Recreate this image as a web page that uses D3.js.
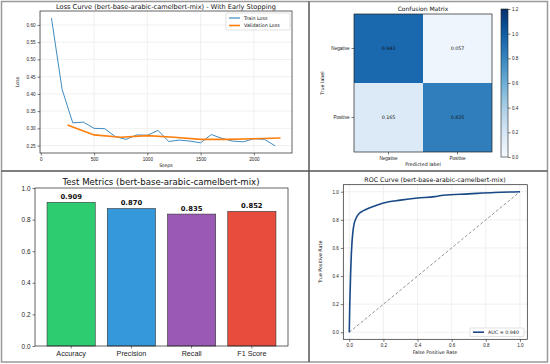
<!DOCTYPE html>
<html>
<head>
<meta charset="utf-8">
<script src="https://cdn.jsdelivr.net/npm/d3@7"></script>
<style>
  body { margin: 0; background: #fff; }
  svg { display: block; font-family: "DejaVu Sans", sans-serif; }
  .tick text { fill: #222; }
</style>
</head>
<body>
<svg id="chart"></svg>
<script>
// Data
const trainSteps = [100, 200, 300, 400, 500, 600, 700, 800, 900, 1000, 1100, 1200, 1300, 1400, 1500, 1600, 1700, 1800, 1900, 2000, 2100, 2200];
const trainLoss = [0.620, 0.413, 0.316, 0.318, 0.300, 0.299, 0.276, 0.268, 0.281, 0.280, 0.294, 0.262, 0.266, 0.263, 0.258, 0.282, 0.271, 0.263, 0.261, 0.270, 0.268, 0.249];
const valSteps = [250, 500, 750, 1000, 1250, 1500, 1750, 2000, 2250];
const valLoss = [0.310, 0.281, 0.274, 0.279, 0.274, 0.268, 0.268, 0.270, 0.272];

const classes = ['Negative', 'Positive'];
const confMatrix = [[0.943, 0.057], [0.165, 0.835]];

const metricNames = ['Accuracy', 'Precision', 'Recall', 'F1 Score'];
const metricValues = [0.909, 0.870, 0.835, 0.852];
const metricColors = ['#2ecc71', '#3498db', '#9b59b6', '#e74c3c'];

const rocFpr = [0, 0.003, 0.008, 0.014, 0.02, 0.028, 0.036, 0.045, 0.058, 0.075, 0.1, 0.14, 0.2, 0.3, 0.4, 0.5, 0.55, 0.7, 0.85, 1.0];
const rocTpr = [0, 0.2, 0.42, 0.6, 0.7, 0.77, 0.8, 0.825, 0.845, 0.86, 0.875, 0.895, 0.92, 0.94, 0.955, 0.965, 0.975, 0.985, 0.995, 1.0];
const aucLabel = 'AUC = 0.940';

const width = 550;
const height = 364;

const svg = d3.select('#chart')
  .attr('width', width)
  .attr('height', height);

svg.append('rect').attr('width', width).attr('height', height).attr('fill', '#fff');

// small helper for a boxed axes frame
function frame(g, x0, y0, x1, y1) {
  g.append('rect')
    .attr('x', x0).attr('y', y0)
    .attr('width', x1 - x0).attr('height', y1 - y0)
    .attr('fill', 'none').attr('stroke', '#222').attr('stroke-width', 0.7);
}

function styleAxis(sel, fs) {
  sel.select('.domain').remove();
  sel.selectAll('.tick line').attr('stroke', '#222').attr('stroke-width', 0.6);
  sel.selectAll('.tick text').attr('font-size', fs);
}

// ---------- Loss curve ----------
{
  const g = svg.append('g');
  const x = d3.scaleLinear().domain([-7.5, 2357.5]).range([40, 292]);
  const y = d3.scaleLinear().domain([0.2285, 0.6405]).range([153, 11]);

  const xTicks = [0, 500, 1000, 1500, 2000];
  const yTicks = d3.range(0.25, 0.6001, 0.05);

  g.append('g').selectAll('line').data(xTicks).join('line')
    .attr('x1', d => x(d)).attr('x2', d => x(d)).attr('y1', 11).attr('y2', 153)
    .attr('stroke', '#e6e6e6').attr('stroke-width', 0.6);
  g.append('g').selectAll('line').data(yTicks).join('line')
    .attr('x1', 40).attr('x2', 292).attr('y1', d => y(d)).attr('y2', d => y(d))
    .attr('stroke', '#e6e6e6').attr('stroke-width', 0.6);

  const line = d3.line().x(d => x(d[0])).y(d => y(d[1]));
  g.append('path')
    .datum(trainSteps.map((s, i) => [s, trainLoss[i]]))
    .attr('d', line).attr('fill', 'none')
    .attr('stroke', '#1f77b4').attr('stroke-opacity', 0.85).attr('stroke-width', 1);
  g.append('path')
    .datum(valSteps.map((s, i) => [s, valLoss[i]]))
    .attr('d', line).attr('fill', 'none')
    .attr('stroke', '#ff7f0e').attr('stroke-width', 1.6);

  g.append('g').attr('transform', 'translate(0,153)')
    .call(d3.axisBottom(x).tickValues(xTicks).tickFormat(d3.format('d')).tickSize(2.5).tickPadding(2))
    .call(s => styleAxis(s, 4.6));
  g.append('g').attr('transform', 'translate(40,0)')
    .call(d3.axisLeft(y).tickValues(yTicks).tickFormat(d3.format('.2f')).tickSize(2.5).tickPadding(2))
    .call(s => styleAxis(s, 4.6));

  frame(g, 40, 11, 292, 153);

  g.append('text').attr('x', 166).attr('y', 8.5).attr('text-anchor', 'middle')
    .attr('font-size', 6.6).attr('fill', '#111')
    .text('Loss Curve (bert-base-arabic-camelbert-mix) - With Early Stopping');
  g.append('text').attr('x', 166).attr('y', 167).attr('text-anchor', 'middle')
    .attr('font-size', 4.8).attr('fill', '#111').text('Steps');
  g.append('text').attr('transform', 'translate(19,82) rotate(-90)').attr('text-anchor', 'middle')
    .attr('font-size', 4.8).attr('fill', '#111').text('Loss');

  // legend
  const lg = g.append('g');
  lg.append('rect').attr('x', 226).attr('y', 13).attr('width', 64).attr('height', 17)
    .attr('fill', '#fff').attr('fill-opacity', 0.85).attr('stroke', '#ccc').attr('stroke-width', 0.6).attr('rx', 1);
  const items = [['Train Loss', '#1f77b4', 1], ['Validation Loss', '#ff7f0e', 1.6]];
  items.forEach((it, i) => {
    const yy = 18 + i * 7.5;
    lg.append('line').attr('x1', 229).attr('x2', 240).attr('y1', yy).attr('y2', yy)
      .attr('stroke', it[1]).attr('stroke-width', it[2]);
    lg.append('text').attr('x', 244).attr('y', yy + 1.7).attr('font-size', 4.8).attr('fill', '#111').text(it[0]);
  });
}

// ---------- Confusion matrix ----------
{
  const g = svg.append('g');
  const x = d3.scaleBand().domain(classes).range([354, 492]);
  const y = d3.scaleBand().domain(classes).range([14, 152]);
  const color = d3.scaleSequential(d3.interpolateBlues).domain([0, 1.2]);

  const cells = [];
  confMatrix.forEach((row, i) => row.forEach((v, j) => cells.push({ r: classes[i], c: classes[j], v })));

  g.selectAll('rect.cell').data(cells).join('rect')
    .attr('class', 'cell')
    .attr('x', d => x(d.c)).attr('y', d => y(d.r))
    .attr('width', x.bandwidth()).attr('height', y.bandwidth())
    .attr('fill', d => color(d.v));
  g.selectAll('text.val').data(cells).join('text')
    .attr('class', 'val')
    .attr('x', d => x(d.c) + x.bandwidth() / 2).attr('y', d => y(d.r) + y.bandwidth() / 2 + 1.7)
    .attr('text-anchor', 'middle').attr('font-size', 4.8).attr('fill', '#111')
    .text(d => d.v.toFixed(3));

  frame(g, 354, 14, 492, 152);

  g.append('g').attr('transform', 'translate(0,152)')
    .call(d3.axisBottom(x).tickSize(2.5).tickPadding(2))
    .call(s => styleAxis(s, 4.6));
  g.append('g').attr('transform', 'translate(354,0)')
    .call(d3.axisLeft(y).tickSize(2.5).tickPadding(2))
    .call(s => styleAxis(s, 4.6));

  g.append('text').attr('x', 423).attr('y', 11).attr('text-anchor', 'middle')
    .attr('font-size', 6).attr('fill', '#111').text('Confusion Matrix');
  g.append('text').attr('x', 423).attr('y', 166).attr('text-anchor', 'middle')
    .attr('font-size', 4.8).attr('fill', '#111').text('Predicted label');
  g.append('text').attr('transform', 'translate(324,83) rotate(-90)').attr('text-anchor', 'middle')
    .attr('font-size', 4.8).attr('fill', '#111').text('True label');

  // colorbar
  const cb = d3.scaleLinear().domain([0, 1.2]).range([157, 9]);
  const defs = svg.append('defs');
  const grad = defs.append('linearGradient').attr('id', 'cbgrad')
    .attr('x1', 0).attr('y1', 1).attr('x2', 0).attr('y2', 0);
  d3.range(0, 1.0001, 0.1).forEach(t => {
    grad.append('stop').attr('offset', t).attr('stop-color', color(t * 1.2));
  });
  g.append('rect').attr('x', 501).attr('y', 9).attr('width', 7).attr('height', 148)
    .attr('fill', 'url(#cbgrad)').attr('stroke', '#222').attr('stroke-width', 0.6);
  g.append('g').attr('transform', 'translate(508,0)')
    .call(d3.axisRight(cb).tickValues(d3.range(0, 1.2001, 0.2)).tickFormat(d3.format('.1f')).tickSize(2.5).tickPadding(1.5))
    .call(s => styleAxis(s, 4.6));
}

// ---------- Test metrics ----------
{
  const g = svg.append('g');
  const x = d3.scaleBand().domain(metricNames).range([35, 288]).paddingInner(0.2).paddingOuter(0.2);
  const y = d3.scaleLinear().domain([0, 1]).range([346, 188]);

  g.selectAll('rect.bar').data(metricNames).join('rect')
    .attr('class', 'bar')
    .attr('x', d => x(d)).attr('width', x.bandwidth())
    .attr('y', (d, i) => y(metricValues[i])).attr('height', (d, i) => y(0) - y(metricValues[i]))
    .attr('fill', (d, i) => metricColors[i])
    .attr('stroke', '#333').attr('stroke-width', 0.6);

  g.selectAll('text.val').data(metricNames).join('text')
    .attr('class', 'val')
    .attr('x', d => x(d) + x.bandwidth() / 2)
    .attr('y', (d, i) => y(metricValues[i]) - 3.5)
    .attr('text-anchor', 'middle').attr('font-size', 6.8).attr('font-weight', 'bold').attr('fill', '#111')
    .text((d, i) => metricValues[i].toFixed(3));

  frame(g, 35, 188, 288, 346);

  g.append('g').attr('transform', 'translate(0,346)')
    .call(d3.axisBottom(x).tickSize(2.5).tickPadding(2.5))
    .call(s => styleAxis(s, 7.2));
  g.append('g').attr('transform', 'translate(35,0)')
    .call(d3.axisLeft(y).tickValues(d3.range(0, 1.0001, 0.2)).tickFormat(d3.format('.1f')).tickSize(2.5).tickPadding(2))
    .call(s => styleAxis(s, 6.4));

  g.append('text').attr('x', 161).attr('y', 184.5).attr('text-anchor', 'middle')
    .attr('font-size', 8.6).attr('fill', '#111').text('Test Metrics (bert-base-arabic-camelbert-mix)');
}

// ---------- ROC curve ----------
{
  const g = svg.append('g');
  const x = d3.scaleLinear().domain([-0.035, 1.043]).range([343.3, 527.3]);
  const y = d3.scaleLinear().domain([-0.05, 1.05]).range([339.3, 184.7]);
  const ticks = d3.range(0, 1.0001, 0.2);

  g.append('g').selectAll('line').data(ticks).join('line')
    .attr('x1', d => x(d)).attr('x2', d => x(d)).attr('y1', 184.7).attr('y2', 339.3)
    .attr('stroke', '#e6e6e6').attr('stroke-width', 0.6);
  g.append('g').selectAll('line').data(ticks).join('line')
    .attr('x1', 343.3).attr('x2', 527.3).attr('y1', d => y(d)).attr('y2', d => y(d))
    .attr('stroke', '#e6e6e6').attr('stroke-width', 0.6);

  g.append('line')
    .attr('x1', x(0)).attr('y1', y(0)).attr('x2', x(1)).attr('y2', y(1))
    .attr('stroke', '#777').attr('stroke-width', 0.8).attr('stroke-dasharray', '3,2');

  const line = d3.line().x(d => x(d[0])).y(d => y(d[1])).curve(d3.curveMonotoneX);
  g.append('path')
    .datum(rocFpr.map((f, i) => [f, rocTpr[i]]))
    .attr('d', line).attr('fill', 'none')
    .attr('stroke', '#1a4a86').attr('stroke-width', 1.6);

  g.append('g').attr('transform', 'translate(0,339.3)')
    .call(d3.axisBottom(x).tickValues(ticks).tickFormat(d3.format('.1f')).tickSize(2.5).tickPadding(2))
    .call(s => styleAxis(s, 4.6));
  g.append('g').attr('transform', 'translate(343.3,0)')
    .call(d3.axisLeft(y).tickValues(ticks).tickFormat(d3.format('.1f')).tickSize(2.5).tickPadding(2))
    .call(s => styleAxis(s, 4.6));

  frame(g, 343.3, 184.7, 527.3, 339.3);

  g.append('text').attr('x', 435).attr('y', 182).attr('text-anchor', 'middle')
    .attr('font-size', 6.3).attr('fill', '#111').text('ROC Curve (bert-base-arabic-camelbert-mix)');
  g.append('text').attr('x', 435).attr('y', 353.5).attr('text-anchor', 'middle')
    .attr('font-size', 4.8).attr('fill', '#111').text('False Positive Rate');
  g.append('text').attr('transform', 'translate(322,262) rotate(-90)').attr('text-anchor', 'middle')
    .attr('font-size', 4.8).attr('fill', '#111').text('True Positive Rate');

  g.append('rect').attr('x', 470).attr('y', 328).attr('width', 54).attr('height', 8.5)
    .attr('fill', '#fff').attr('stroke', '#ccc').attr('stroke-width', 0.6).attr('rx', 1);
  g.append('line').attr('x1', 473).attr('x2', 484).attr('y1', 332.2).attr('y2', 332.2)
    .attr('stroke', '#1a4a86').attr('stroke-width', 1.6);
  g.append('text').attr('x', 488).attr('y', 334).attr('font-size', 4.8).attr('fill', '#111').text(aucLabel);
}

// ---------- panel borders ----------
svg.append('rect').attr('x', 1.5).attr('y', 1.5).attr('width', 546).attr('height', 360.5)
  .attr('fill', 'none').attr('stroke', '#999').attr('stroke-width', 1.5);
svg.append('line').attr('x1', 309).attr('x2', 309).attr('y1', 1.5).attr('y2', 362)
  .attr('stroke', '#555').attr('stroke-width', 1.5);
svg.append('line').attr('x1', 1.5).attr('x2', 547.5).attr('y1', 171).attr('y2', 171)
  .attr('stroke', '#555').attr('stroke-width', 1.5);
</script>
</body>
</html>
